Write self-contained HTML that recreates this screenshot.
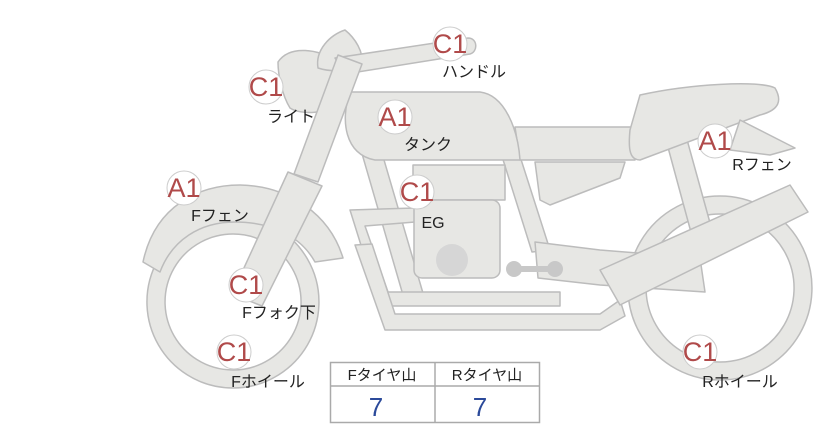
<!DOCTYPE html>
<html><head><meta charset="utf-8"><style>
html,body{margin:0;padding:0;background:#fff;}
svg{display:block}
text{font-family:"Liberation Sans","Noto Sans CJK JP",sans-serif;}
</style></head><body>
<svg width="822" height="425" viewBox="0 0 822 425" xmlns="http://www.w3.org/2000/svg">
<g fill="#e7e7e4" stroke="#bcbcbc" stroke-width="1.5" stroke-linejoin="round">
<!-- rear wheel -->
<path fill-rule="evenodd" d="M720,196 a92,92 0 1,1 -0.1,0 Z M720,214 a74,74 0 1,0 0.1,0 Z"/>
<!-- front wheel -->
<path fill-rule="evenodd" d="M233,216 a86,86 0 1,1 -0.1,0 Z M233,234 a68,68 0 1,0 0.1,0 Z"/>
<!-- front fender -->
<path d="M143,262 C155,205 200,185 240,185 C290,186 330,215 343,258 L315,262 C300,235 270,222 235,222 C200,222 172,240 160,272 Z"/>
<!-- rear frame struts -->
<path d="M666,140 L686,136 L712,230 L692,236 Z"/>
<!-- frame tubes -->
<path d="M345,95 L365,95 L425,300 L405,302 Z"/>
<path d="M500,150 L518,150 L550,250 L532,252 Z"/>
<!-- lower frame -->
<path d="M350,210 L415,208 L415,222 L365,226 L388,292 L560,292 L560,306 L380,306 Z"/>
<path d="M355,245 L372,244 L395,314 L600,314 L620,300 L625,316 L600,330 L385,330 Z"/>
<!-- swingarm -->
<path d="M535,242 L600,250 L700,258 L705,292 L600,285 L538,278 Z"/>
<!-- engine -->
<rect x="413" y="165" width="92" height="35"/>
<rect x="414" y="200" width="86" height="78" rx="8"/>
<circle cx="452" cy="260" r="16" fill="#d6d6d6" stroke="none"/>
<path d="M514,266 L552,266 L552,272 L514,272 Z" fill="#c8c8c8" stroke="none"/>
<circle cx="514" cy="269" r="8" fill="#c8c8c8" stroke="none"/>
<circle cx="555" cy="269" r="8" fill="#c8c8c8" stroke="none"/>
<!-- seat -->
<path d="M515,127 L635,127 L635,160 L520,160 Z"/>
<path d="M535,162 L625,162 L620,178 L550,205 L540,200 Z"/>
<path d="M640,95 C690,84 760,80 775,88 C782,100 780,110 760,115 L640,160 C630,160 628,150 630,130 Z"/>
<path d="M740,120 L795,148 L770,155 L730,150 Z"/>
<!-- exhaust -->
<path d="M600,270 L790,185 L808,212 L620,305 Z"/>
<!-- tank -->
<path d="M350,92 L480,92 C505,95 518,130 520,160 L375,160 C345,155 340,120 350,92 Z"/>
<!-- headlight -->
<path d="M278,62 C290,44 320,50 335,60 L338,100 C330,115 300,115 290,108 C282,95 278,75 278,62 Z"/>
<path d="M318,68 C315,50 330,35 345,30 C355,38 364,52 362,65 C350,72 330,72 318,68 Z"/>
<!-- handlebar -->
<path d="M335,58 L468,38 C478,38 478,52 470,54 L345,74 Z"/>
<!-- fork -->
<path d="M338,55 L362,64 L318,182 L294,174 Z"/>
<path d="M288,172 L322,186 L262,306 L232,294 Z"/>
</g>
<!-- table -->
<g fill="#fff" stroke="#aaa" stroke-width="1.5">
<rect x="330.5" y="362.5" width="209" height="60"/>
<line x1="330" y1="386" x2="540" y2="386"/>
<line x1="435" y1="362" x2="435" y2="423"/>
</g>
<g font-size="15" fill="#222">
<text x="382" y="380" text-anchor="middle">Fタイヤ山</text>
<text x="487" y="380" text-anchor="middle">Rタイヤ山</text>
</g>
<g font-size="26" fill="#2b4a9a" text-anchor="middle">
<text x="376" y="416">7</text><text x="480" y="416">7</text>
</g>
<!-- badges -->
<g font-size="27" fill="#b04a4a" text-anchor="middle">
<g><circle cx="450" cy="44" r="17" fill="#fff" stroke="#ccc"/><text x="450" y="53">C1</text></g>
<g><circle cx="266" cy="87" r="17" fill="#fff" stroke="#ccc"/><text x="266" y="96">C1</text></g>
<g><circle cx="395" cy="117" r="17" fill="#fff" stroke="#ccc"/><text x="395" y="126">A1</text></g>
<g><circle cx="184" cy="188" r="17" fill="#fff" stroke="#ccc"/><text x="184" y="197">A1</text></g>
<g><circle cx="417" cy="192" r="17" fill="#fff" stroke="#ccc"/><text x="417" y="201">C1</text></g>
<g><circle cx="246" cy="285" r="17" fill="#fff" stroke="#ccc"/><text x="246" y="294">C1</text></g>
<g><circle cx="234" cy="352" r="17" fill="#fff" stroke="#ccc"/><text x="234" y="361">C1</text></g>
<g><circle cx="715" cy="141" r="17" fill="#fff" stroke="#ccc"/><text x="715" y="150">A1</text></g>
<g><circle cx="700" cy="352" r="17" fill="#fff" stroke="#ccc"/><text x="700" y="361">C1</text></g>
</g>
<g font-size="16" fill="#222" text-anchor="middle">
<text x="474" y="77">ハンドル</text>
<text x="291" y="122">ライト</text>
<text x="428" y="150">タンク</text>
<text x="220" y="221">Fフェン</text>
<text x="433" y="228">EG</text>
<text x="279" y="318">Fフォク下</text>
<text x="268" y="387">Fホイール</text>
<text x="762" y="170">Rフェン</text>
<text x="740" y="387">Rホイール</text>
</g>
</svg>
</body></html>
